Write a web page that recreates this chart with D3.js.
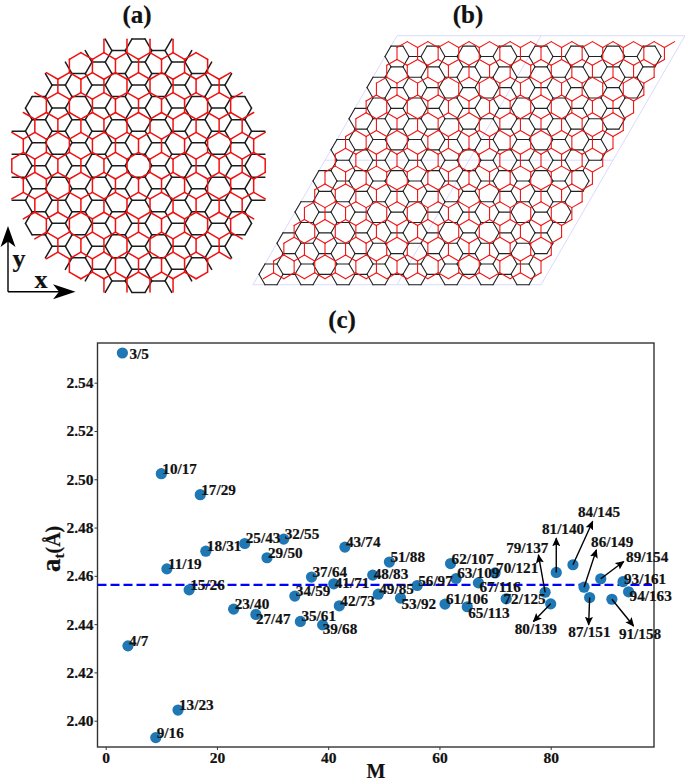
<!DOCTYPE html>
<html>
<head>
<meta charset="utf-8">
<script src="https://cdn.jsdelivr.net/npm/d3@7"></script>
<style>
  html, body { margin: 0; padding: 0; background: #fff; }
  svg { display: block; }
  text { font-family: "Liberation Serif", serif; font-weight: bold; fill: #111; stroke: #111; stroke-width: 0.2px; }
</style>
</head>
<body>
<script>
// commensurate ratio M/N for every point of panel (c)
var ratioLabels = ["3/5","4/7","9/16","10/17","11/19","13/23","15/26","17/29","18/31","23/40",
  "25/43","27/47","29/50","32/55","34/59","35/61","37/64","39/68","41/71","42/73",
  "43/74","48/83","49/85","51/88","53/92","56/97","61/106","62/107","63/109","65/113",
  "67/116","70/121","72/125","79/137","80/139","81/140","84/145","86/149","87/151","89/154",
  "91/158","93/161","94/163"];
var mValues = [3,4,9,10,11,13,15,17,18,23,
  25,27,29,32,34,35,37,39,41,42,
  43,48,49,51,53,56,61,62,63,65,
  67,70,72,79,80,81,84,86,87,89,
  91,93,94];
var atValues = [2.5523,2.4310,2.3930,2.5023,2.4629,2.4044,2.4542,2.4936,2.4702,2.4462,
  2.4734,2.4440,2.4675,2.4752,2.4516,2.4411,2.4595,2.4397,2.4567,2.4476,
  2.4719,2.4603,2.4524,2.4657,2.4508,2.4560,2.4483,2.4651,2.4589,2.4472,
  2.4571,2.4612,2.4505,2.4532,2.4484,2.4614,2.4646,2.4553,2.4510,2.4588,
  2.4503,2.4576,2.4534];
var xTicks = [0,20,40,60,80];
var yTicks = [2.40,2.42,2.44,2.46,2.48,2.50,2.52,2.54];
var refLine = 2.4563;

// label offsets in px, only where the label is not simply at the point
var labelShift = {
  "3/5":[7,6], "27/47":[0,10], "39/68":[0,9], "41/71":[1,4], "48/83":[1,4], "53/92":[1,11],
  "65/113":[1,11.7], "67/116":[1,8.7], "72/125":[-2.7,5.3], "93/161":[1,2.3], "94/163":[1,9],
  "79/137":[-39,-39], "81/140":[-14.3,-38.3], "84/145":[5,-47.7], "86/149":[7,-39.7],
  "89/154":[25.3,-16.7], "80/139":[-36,30.3], "87/151":[-21.3,39.7], "91/158":[7,40]
};
// arrow tips in px from the point
var arrowTip = {
  "79/137":[-6.7,-37.3], "81/140":[0,-34.3], "84/145":[19.7,-43.3], "86/149":[12.3,-37.3],
  "89/154":[23,-17.3], "80/139":[-17.3,17.7], "87/151":[-1,27.3], "91/158":[21.7,26.7]
};

var W = 685, H = 781;
var svg = d3.select("body").append("svg").attr("width", W).attr("height", H);

svg.append("defs").append("marker")
  .attr("id", "tip").attr("viewBox", "0 0 10 10").attr("refX", 9).attr("refY", 5)
  .attr("markerUnits", "userSpaceOnUse").attr("markerWidth", 9).attr("markerHeight", 9)
  .attr("orient", "auto")
  .append("path").attr("d", "M0,0.5L10,5L0,9.5L2,5Z").attr("fill", "#000");

// ---- honeycomb helpers, units are C-C bonds ----
// flat = true gives flat topped hexagons (black layer), false the 30 deg rotated one (red)
function honeycomb(bond, flat, reach, inside) {
  var c = Math.sqrt(3) * bond;
  var v1 = flat ? [0, c] : [c, 0];
  var v2 = flat ? [c * Math.sqrt(3) / 2, c / 2] : [c / 2, c * Math.sqrt(3) / 2];
  var start = flat ? 0 : 30;
  var seen = new Set(), bonds = [];
  var n = Math.ceil(reach / c) * 2;
  d3.range(-n, n + 1).forEach(function(i) {
    d3.range(-n, n + 1).forEach(function(j) {
      var cx = i * v1[0] + j * v2[0], cy = i * v1[1] + j * v2[1];
      var corners = d3.range(6).map(function(k) {
        var t = (start + 60 * k) * Math.PI / 180;
        return [cx + bond * Math.cos(t), cy + bond * Math.sin(t)];
      });
      corners.forEach(function(p, k) {
        var q = corners[(k + 1) % 6];
        var key = Math.round((p[0] + q[0]) * 50) + "_" + Math.round((p[1] + q[1]) * 50);
        if (seen.has(key) || !inside(p) || !inside(q)) return;
        seen.add(key);
        bonds.push([p, q]);
      });
    });
  });
  return bonds;
}

function drawBonds(g, bonds, x, y, color, width) {
  g.append("g").selectAll("line").data(bonds).join("line")
    .attr("x1", function(d) { return x(d[0][0]); })
    .attr("y1", function(d) { return y(d[0][1]); })
    .attr("x2", function(d) { return x(d[1][0]); })
    .attr("y2", function(d) { return y(d[1][1]); })
    .attr("stroke", color).attr("stroke-width", width).attr("stroke-linecap", "round");
}

// ---- panel (a), flake cut out of the 30 deg bilayer ----
var flakeR = 9.9;
var xa = d3.scaleLinear().domain([-10, 10]).range([5.5, 271.5]);
var ya = d3.scaleLinear().domain([-10, 10]).range([298.7, 32.7]);
function inFlake(p) { return p[0] * p[0] + p[1] * p[1] <= flakeR * flakeR; }
var panelA = svg.append("g");
drawBonds(panelA, honeycomb(1, true, flakeR + 2, inFlake), xa, ya, "#1c1c1c", 1.5);
drawBonds(panelA, honeycomb(1, false, flakeR + 2, inFlake), xa, ya, "#f01010", 1.5);

// ---- panel (b), 2x2 of the 4/7 approximant cell ----
var M = 4, N = 7;
var L = 12;                                  // cell side = 4 x 3 black bonds
var xb = d3.scaleLinear().domain([-1.5 * L, 1.5 * L]).range([253, 685]);
var yb = d3.scaleLinear().domain([-L * Math.sqrt(3) / 2, L * Math.sqrt(3) / 2]).range([284.7, 35.7]);
function inCell(p) {
  var v = p[1] / (L * Math.sqrt(3) / 2);
  var u = (p[0] - p[1] / Math.sqrt(3)) / L;
  return u >= -1.001 && u < 0.999 && v >= -1.001 && v < 0.999;
}
var cellLines = [[-1,-1,1,-1],[-1,0,1,0],[-1,1,1,1],[-1,-1,-1,1],[0,-1,0,1],[1,-1,1,1]];
function cellXY(u, v) { return [u * L + v * L / 2, v * L * Math.sqrt(3) / 2]; }
var panelB = svg.append("g");
panelB.append("g").selectAll("line").data(cellLines).join("line")
  .attr("x1", function(d) { return xb(cellXY(d[0], d[1])[0]); })
  .attr("y1", function(d) { return yb(cellXY(d[0], d[1])[1]); })
  .attr("x2", function(d) { return xb(cellXY(d[2], d[3])[0]); })
  .attr("y2", function(d) { return yb(cellXY(d[2], d[3])[1]); })
  .attr("stroke", "#d9d9ff").attr("stroke-width", 1);
drawBonds(panelB, honeycomb(L / (3 * M), true, 2.5 * L, inCell), xb, yb, "#222", 1.1);
drawBonds(panelB, honeycomb(L / (Math.sqrt(3) * N), false, 2.5 * L, inCell), xb, yb, "#f01515", 1.1);

// panel titles
var titles = ["(a)", "(b)", "(c)"];
svg.selectAll(".title").data(titles).join("text")
  .attr("class", "title")
  .attr("x", function(d, i) { return [137, 468, 342][i]; })
  .attr("y", function(d, i) { return [22.5, 22.5, 328][i]; })
  .attr("text-anchor", "middle").style("font-size", "25px")
  .text(function(d) { return d; });

// xy frame next to panel (a)
svg.append("path").attr("d", "M8,291.7V232M8,291.7H70").attr("fill", "none")
  .attr("stroke", "#000").attr("stroke-width", 1.4);
svg.append("path").attr("d", "M8,226L15.5,247L8,241.5L0.5,247Z").attr("fill", "#000");
svg.append("path").attr("d", "M75.5,291.7L53,284.2L59,291.7L53,299.2Z").attr("fill", "#000");
svg.append("text").attr("x", 12.5).attr("y", 267).style("font-size", "26px").text("y");
svg.append("text").attr("x", 34.5).attr("y", 287.5).style("font-size", "26px").text("x");

// ---- panel (c) ----
var x = d3.scaleLinear().domain([0, 80]).range([105.7, 550.7]);
var y = d3.scaleLinear().domain([2.40, 2.54]).range([720.7, 382.7]);
var left = 97.5, right = 654, top_ = 343, bottom = 747;

var xAxis = d3.axisBottom(x).tickValues(xTicks).tickSize(3).tickPadding(2);
var yAxis = d3.axisLeft(y).tickValues(yTicks).tickSize(3).tickPadding(1).tickFormat(d3.format(".2f"));

svg.append("g").attr("transform", "translate(0," + bottom + ")").call(xAxis)
  .call(function(g) { g.select(".domain").remove(); });
svg.append("g").attr("transform", "translate(" + left + ",0)").call(yAxis)
  .call(function(g) { g.select(".domain").remove(); });
svg.selectAll(".tick text").style("font-family", "Liberation Serif").style("font-weight", "bold")
  .style("font-size", "15.5px").attr("fill", "#111");
svg.selectAll(".tick line").attr("stroke", "#333");

svg.append("rect").attr("x", left).attr("y", top_)
  .attr("width", right - left).attr("height", bottom - top_)
  .attr("fill", "none").attr("stroke", "#333").attr("stroke-width", 1.4);

svg.append("line").attr("x1", left).attr("x2", 652)
  .attr("y1", y(refLine)).attr("y2", y(refLine))
  .attr("stroke", "#0000ff").attr("stroke-width", 2.3).attr("stroke-dasharray", "9,4");

var pts = ratioLabels.map(function(label, i) {
  return { label: label, m: mValues[i], at: atValues[i] };
});

svg.append("g").selectAll("circle").data(pts).join("circle")
  .attr("cx", function(d) { return x(d.m); })
  .attr("cy", function(d) { return y(d.at); })
  .attr("r", 5.6).attr("fill", "#1f77b4");

svg.append("g").selectAll("line").data(pts.filter(function(d) { return arrowTip[d.label]; })).join("line")
  .attr("x1", function(d) { return x(d.m); })
  .attr("y1", function(d) { return y(d.at); })
  .attr("x2", function(d) { return x(d.m) + arrowTip[d.label][0]; })
  .attr("y2", function(d) { return y(d.at) + arrowTip[d.label][1]; })
  .attr("stroke", "#000").attr("stroke-width", 1.4).attr("marker-end", "url(#tip)");

svg.append("g").selectAll("text").data(pts).join("text")
  .attr("x", function(d) { return x(d.m) + (labelShift[d.label] ? labelShift[d.label][0] : 1); })
  .attr("y", function(d) { return y(d.at) + (labelShift[d.label] ? labelShift[d.label][1] : 0); })
  .style("font-size", "15.2px")
  .text(function(d) { return d.label; });

// axis titles
svg.append("text").attr("x", 376).attr("y", 778).attr("text-anchor", "middle")
  .style("font-size", "20px").text("M");
var yl = svg.append("text").attr("transform", "translate(59.5,572) rotate(-90)");
yl.append("tspan").style("font-size", "27px").text("a");
yl.append("tspan").style("font-size", "15px").attr("dy", 4).text("t");
yl.append("tspan").style("font-size", "20px").attr("dy", -4).text("(Å)");
</script>
</body>
</html>
